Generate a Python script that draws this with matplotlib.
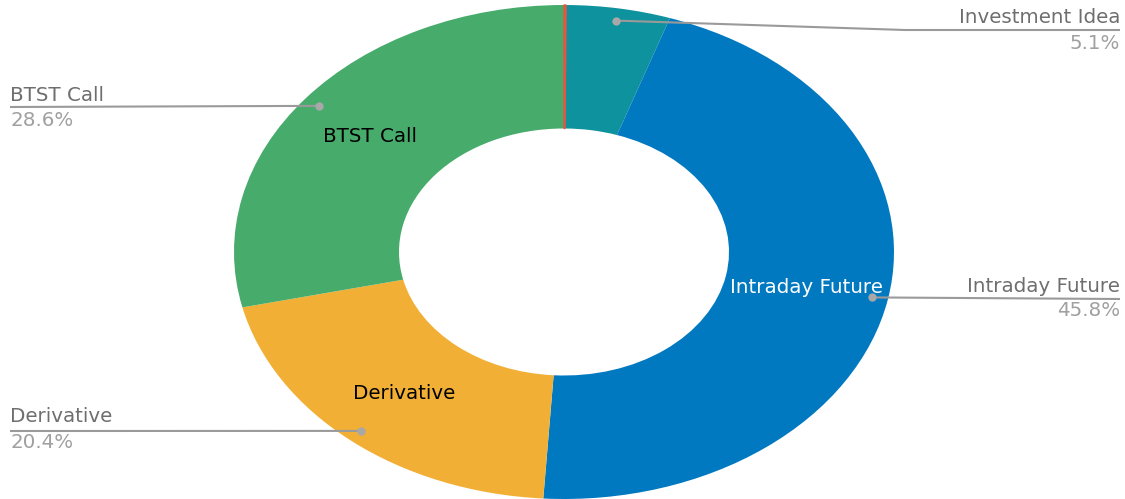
import numpy as np
import matplotlib
matplotlib.use("Agg")
import matplotlib.pyplot as plt

plt.rcParams['font.family'] = ['DejaVu Sans']

categories = ["Other", "Investment Idea", "Intraday Future", "Derivative", "BTST Call"]
values = [0.1, 5.1, 45.8, 20.4, 28.6]
colors = ["#E8553E", "#0E929E", "#0179C1", "#F1B035", "#47AB6C"]
inner_labels = {"Intraday Future": "white", "Derivative": "black", "BTST Call": "black"}
outer_labels = ["Investment Idea", "Intraday Future", "Derivative", "BTST Call"]
pct_labels = ["5.1%", "45.8%", "20.4%", "28.6%"]

W, H = 1125, 499
CX, CY, RX, RY = 564, 252, 330, 247

fig = plt.figure(figsize=(W / 100, H / 100), dpi=100)
ax = fig.add_axes([0, 0, 1, 1])
wedges, _ = ax.pie(values, colors=colors, startangle=90, counterclock=False,
                   wedgeprops=dict(width=0.5, linewidth=0))
wedges[0].set_edgecolor(colors[0])
wedges[0].set_linewidth(1.0)
wedges[0].set_zorder(3)
ax.set_aspect('auto')
ax.set_xlim(-CX / RX, (W - CX) / RX)
ax.set_ylim(-(H - CY) / RY, CY / RY)
ax.axis('off')

def px2d(px, py):
    return (px - CX) / RX, (CY - py) / RY

total = sum(values)
cum = np.cumsum([0] + values)
mid_angle = {}
for i, c in enumerate(categories):
    frac = (cum[i] + values[i] / 2) / total
    mid_angle[c] = 2 * np.pi * frac  # clockwise from top

def pos(c, r):
    a = mid_angle[c]
    return r * np.sin(a), r * np.cos(a)

FS = 14.3

for c, col in inner_labels.items():
    x, y = pos(c, 0.75)
    ax.text(x, y, c, color=col, fontsize=FS, ha='center', va='center', zorder=5)

line_col = "#9A9A9A"
name_col = "#6E6E6E"
pct_col = "#A0A0A0"

layout = {
    "Investment Idea": ([(905, 30), (1120, 30)], 1120, 'right', 17, 43),
    "Intraday Future": ([(1120, 299)], 1120, 'right', 287, 311),
    "Derivative": ([(10, 431)], 10, 'left', 417, 443),
    "BTST Call": ([(10, 107)], 10, 'left', 95, 120),
}
for c, p in zip(outer_labels, pct_labels):
    path, tx, ha, ny, py = layout[c]
    dx, dy = pos(c, 0.95)
    xs = [dx] + [px2d(*pt)[0] for pt in path]
    ys = [dy] + [px2d(*pt)[1] for pt in path]
    ax.plot(xs, ys, color=line_col, lw=1.5, solid_capstyle='butt', zorder=4)
    ax.plot([dx], [dy], 'o', color="#A8A8A8", ms=6, mec='none', zorder=4)
    x1, y1 = px2d(tx, ny)
    ax.text(x1, y1, c, color=name_col, fontsize=FS, ha=ha, va='center')
    x2, y2 = px2d(tx, py)
    ax.text(x2, y2, p, color=pct_col, fontsize=FS, ha=ha, va='center')

fig.savefig("out.png", dpi=100)
